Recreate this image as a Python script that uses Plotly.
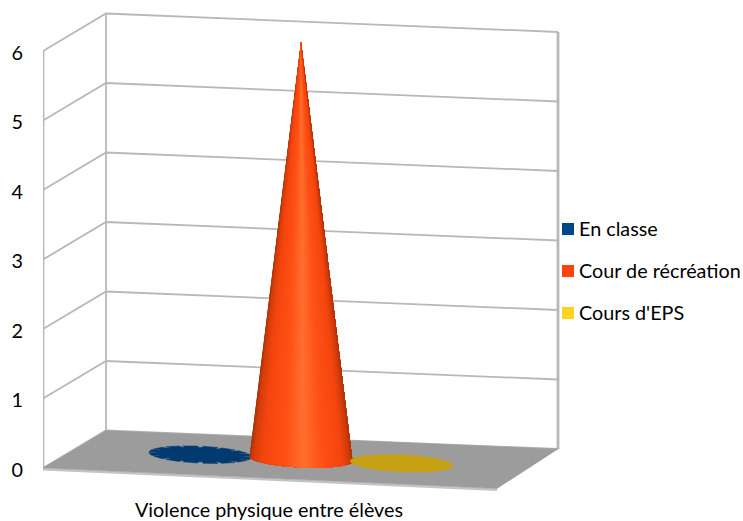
import numpy as np
import plotly.graph_objects as go

category = "Violence physique entre élèves"
series_names = ["En classe", "Cour de récréation", "Cours d'EPS"]
series_values = [0, 6, 0]
legend_colors = ["#004586", "#ff420e", "#ffd320"]
base_colors = ["#003a70", "#ff420e", "#c4a012"]
tick_values = [0, 1, 2, 3, 4, 5, 6]
FONT = "Lato"
FS = 19.8
W, H = 743, 521
L, B = 43, 26
PX = 69.5          # pixels per value unit
FLOOR_U, FLOOR_V = 454.0, 20.5   # front edge vector, px
DEPTH_X, DEPTH_Y = 63.0, 37.5    # depth vector, px
WALL = "#b8b8b8"


def X(u, d):
    return u * (FLOOR_U - 2 * d) / 3 + d * DEPTH_X


def Y(u, d, v=0.0):
    return v + (d * DEPTH_Y - u * (FLOOR_V - 2 * d) / 3) / PX


def lerp_color(s):
    stops = [(-1, (168, 52, 8)), (-.93, (212, 62, 12)), (-.75, (245, 69, 15)), (-.3, (255, 82, 22)),
             (.05, (255, 112, 48)), (.4, (255, 82, 22)), (.8, (245, 69, 15)), (.94, (208, 60, 12)), (1, (176, 52, 8))]
    xs = [a for a, _ in stops]
    c = [int(np.interp(s, xs, [b[i] for _, b in stops])) for i in range(3)]
    return f"rgb({c[0]},{c[1]},{c[2]})"


fig = go.Figure()


def line(xs, ys, width, color=WALL):
    fig.add_trace(go.Scatter(x=xs, y=ys, mode="lines", line=dict(color=color, width=width),
                             showlegend=False, hoverinfo="skip"))


# walls
for v in tick_values:
    line([X(0, 0), X(0, 1), X(3, 1)], [Y(0, 0, v), Y(0, 1, v), Y(3, 1, v)], 1.8)
line([X(0, 0), X(0, 0)], [Y(0, 0, 0), Y(0, 0, 6)], 2.8)
line([X(0, 1), X(0, 1)], [Y(0, 1, 0), Y(0, 1, 6)], 1.8)
line([X(3, 1), X(3, 1)], [Y(3, 1, 0), Y(3, 1, 6)], 2.8)

# floor
fx = [X(0, 0), X(3, 0), X(3, 1), X(0, 1), X(0, 0)]
fy = [Y(0, 0), Y(3, 0), Y(3, 1), Y(0, 1), Y(0, 0)]
line([X(0, 0), X(3, 0)], [Y(0, 0) - 1.2 / PX, Y(3, 0) - 1.2 / PX], 2.4, "#c4c4c4")
fig.add_trace(go.Scatter(x=fx, y=fy, mode="lines", fill="toself", fillcolor="#9c9c9c",
                         line=dict(color="#9c9c9c", width=0.5), showlegend=False, hoverinfo="skip"))

# cones
centres = [5 / 6, 1.5, 13 / 6]
RX, RY = 51.5, 8.5
slope = FLOOR_V / FLOOR_U
t = np.radians(np.arange(0, 361, 1.0))
for i, (name, val) in enumerate(zip(series_names, series_values)):
    cx, cy = X(centres[i], .5), Y(centres[i], .5)
    if val == 0:
        r = np.ones_like(t)
        if i == 0:  # the flat blue disc has small radial nicks
            deg = np.degrees(t)
            dist = np.abs(((deg + 11.25) % 22.5) - 11.25)
            r = np.where(dist < 2.5, 0.84, 1.0)
        ex = cx + RX * r * np.cos(t)
        ey = cy + (-RX * slope * r * np.cos(t) + RY * r * np.sin(t)) / PX
        fig.add_trace(go.Scatter(x=ex, y=ey, mode="lines", fill="toself", fillcolor=base_colors[i],
                                 line=dict(color=base_colors[i], width=0.5), showlegend=False, hoverinfo="skip"))
    else:
        n = 70
        th = np.linspace(np.pi, 2 * np.pi, n + 1)  # front half of the base
        bx = cx + RX * np.cos(th)
        by = cy + (-RX * slope * np.cos(th) + RY * np.sin(th)) / PX
        for k in range(n):
            s = (np.cos(th[k]) + np.cos(th[k + 1])) / 2
            col = lerp_color(s)
            px_ = list(bx[k:]) + [cx, bx[k]]
            py_ = list(by[k:]) + [cy + val, by[k]]
            fig.add_trace(go.Scatter(x=px_, y=py_, mode="lines", fill="toself", fillcolor=col,
                                     line=dict(color=col, width=0), showlegend=False, hoverinfo="skip"))

# key
key_x = 568 - L
key_px_y = [229, 271, 313]
for name, col, py in zip(series_names, legend_colors, key_px_y):
    fig.add_trace(go.Scatter(x=[key_x], y=[(468 - py) / PX], mode="markers", name=name,
                             marker=dict(symbol="square", size=12, color=col),
                             showlegend=False, hoverinfo="skip", cliponaxis=False))
    fig.add_trace(go.Scatter(x=[579 - L], y=[(468 - py - 2) / PX], mode="text", name=name,
                             text=[name], textposition="middle right",
                             textfont=dict(size=FS, family=FONT, color="black"),
                             showlegend=False, hoverinfo="skip", cliponaxis=False))

plot_w, plot_h = W - L, H - B
fig.update_layout(
    width=W, height=H, autosize=False, paper_bgcolor="white", plot_bgcolor="white",
    margin=dict(l=L, r=0, t=0, b=B), font=dict(family=FONT, size=FS, color="black"),
    showlegend=False, hovermode=False,
    xaxis=dict(range=[0, plot_w], showgrid=False, zeroline=False, showline=False, ticks="",
               tickmode="array", tickvals=[X(1.5, 0) - 1], ticktext=[category],
               tickfont=dict(size=FS, family=FONT), ticklabelstandoff=1),
    yaxis=dict(range=[(468 - (H - B)) / PX, 468 / PX], showgrid=False, zeroline=False, showline=False,
               ticks="", tickmode="array", tickvals=tick_values, ticktext=[str(v) for v in tick_values],
               tickfont=dict(size=FS, family=FONT), ticklabelstandoff=19, ticklabelshift=2),
)
fig.write_html("out.html", config={"displayModeBar": False},
               post_script="document.body.style.margin='0';")
